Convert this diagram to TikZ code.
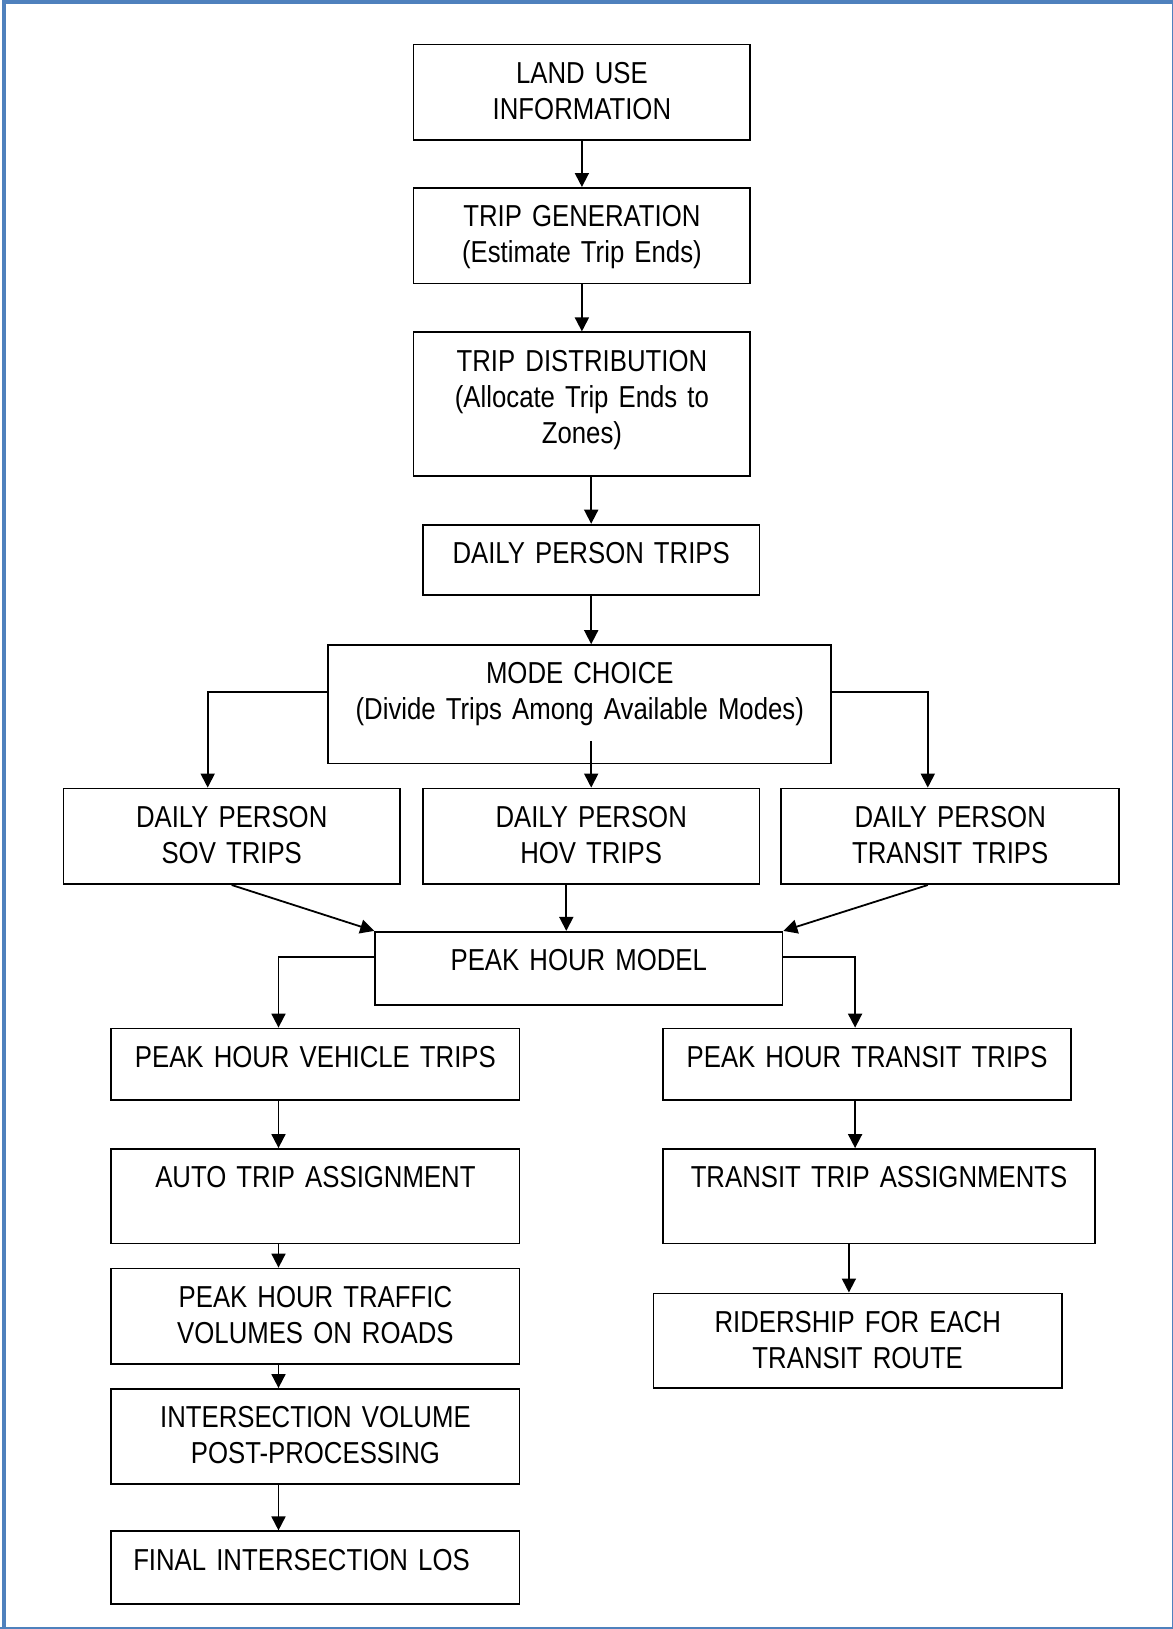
\documentclass[tikz,border=0pt]{standalone}
\usepackage{fontspec}
\usepackage{tikz}
\usetikzlibrary{arrows.meta}
\newfontfamily\stagefont{Liberation Sans}[FakeStretch=0.85, WordSpace=0.8]
\definecolor{frameblue}{RGB}{79,129,189}

\tikzset{
	stagebox/.style={draw, line width=0.9pt, inner sep=0pt, align=center, anchor=north,
		text height=19.4pt, font=\stagefont\fontsize{15.15pt}{18pt}\selectfont},
	flow/.style={-{Triangle[length=7pt,width=7pt]}, line width=0.9pt},
}

\begin{document}
\begin{tikzpicture}[x=0.5pt,y=-0.5pt]

	\useasboundingbox (0,0) rectangle (1173,1629);
	\fill[white] (0,0) rectangle (1173,1629);
	\draw[frameblue, line width=2pt] (4,1629) -- (4,2) -- (1173,2);
	\draw[frameblue, line width=0.75pt] (1172.3,0) -- (1172.3,1627.9) -- (0,1627.9);

	\coordinate (lcol) at (278.5,0);
	\coordinate (rcol) at (855.1,0);

	\node[stagebox, text width=168.35pt, text depth=28.4pt] (land) at (581.9,43.6) {LAND USE\\INFORMATION};
	\node[stagebox, text width=168.35pt, text depth=28.4pt] (gen) at (581.9,187) {TRIP GENERATION\\(Estimate Trip Ends)};
	\node[stagebox, text width=168.35pt, text depth=52.3pt] (dist) at (581.9,331.4) {TRIP DISTRIBUTION\\(Allocate Trip Ends to\\Zones)};
	\node[stagebox, text width=168.3pt, text depth=15.9pt] (daily) at (591.2,523.7) {DAILY PERSON TRIPS};
	\node[stagebox, text width=251.45pt, text depth=39.8pt] (mode) at (579.8,644.2) {MODE CHOICE\\(Divide Trips Among Available Modes)};

	\node[stagebox, text width=168.3pt, text depth=28.4pt] (sov) at (231.7,787.6) {DAILY PERSON\\SOV TRIPS};
	\node[stagebox, text width=168.3pt, text depth=28.4pt] (hov) at (591.2,787.6) {DAILY PERSON\\HOV TRIPS};
	\node[stagebox, text width=168.85pt, text depth=28.4pt] (transit) at (950.2,787.6) {DAILY PERSON\\TRANSIT TRIPS};

	\node[stagebox, text width=203.65pt, text depth=17pt] (peak) at (578.8,930.9) {PEAK HOUR MODEL};

	\node[stagebox, text width=204.15pt, text depth=16.45pt] (pveh) at (315.4,1027.6) {PEAK HOUR VEHICLE TRIPS};
	\node[stagebox, text width=204.15pt, text depth=27.85pt] (auto) at (315.4,1148.1) {AUTO TRIP ASSIGNMENT};
	\node[stagebox, text width=204.15pt, text depth=28.4pt] (traffic) at (315.4,1267.6) {PEAK HOUR TRAFFIC\\VOLUMES ON ROADS};
	\node[stagebox, text width=204.15pt, text depth=27.9pt] (inter) at (315.4,1388.1) {INTERSECTION VOLUME\\POST-PROCESSING};
	\node[stagebox, align=left, inner xsep=11pt, text width=182.15pt, text depth=17pt] (final) at (315.4,1530.4) {FINAL INTERSECTION LOS};

	\node[stagebox, text width=204.15pt, text depth=16.45pt] (ptran) at (867.1,1027.6) {PEAK HOUR TRANSIT TRIPS};
	\node[stagebox, text width=216.1pt, text depth=27.85pt] (tassign) at (879,1148.1) {TRANSIT TRIP ASSIGNMENTS};
	\node[stagebox, text width=204.2pt, text depth=27.9pt] (rider) at (857.7,1292.5) {RIDERSHIP FOR EACH\\TRANSIT ROUTE};

	\draw[flow] (land.south) -- (gen.north);
	\draw[flow] (gen.south) -- (dist.north);
	\draw[flow] (dist.south -| daily.north) -- (daily.north);
	\draw[flow] (daily.south) -- (daily.south |- mode.north);

	\draw[flow] ([yshift=6.25pt]mode.west) -| ([xshift=-12pt]sov.north);
	\draw[flow] ([yshift=11.8pt]mode.south -| hov.north) -- (hov.north);
	\draw[flow] ([yshift=6.25pt]mode.east) -| ([xshift=-11.2pt]transit.north);

	\draw[flow] (sov.south) -- (peak.north west);
	\draw[flow] ([xshift=-12.45pt]hov.south) -- ([xshift=-12.45pt]hov.south |- peak.north);
	\draw[flow] ([xshift=-11.2pt]transit.south) -- (peak.north east);

	\draw[flow] ([yshift=5.7pt]peak.west) -| (lcol |- pveh.north);
	\draw[flow] ([yshift=5.7pt]peak.east) -| (rcol |- ptran.north);

	\draw[flow] (lcol |- pveh.south) -- (lcol |- auto.north);
	\draw[flow] (lcol |- auto.south) -- (lcol |- traffic.north);
	\draw[flow] (lcol |- traffic.south) -- (lcol |- inter.north);
	\draw[flow] (lcol |- inter.south) -- (lcol |- final.north);

	\draw[flow] (rcol |- ptran.south) -- (rcol |- tassign.north);
	\draw[flow] ([xshift=-4.4pt]rider.north |- tassign.south) -- ([xshift=-4.4pt]rider.north);

\end{tikzpicture}
\end{document}
